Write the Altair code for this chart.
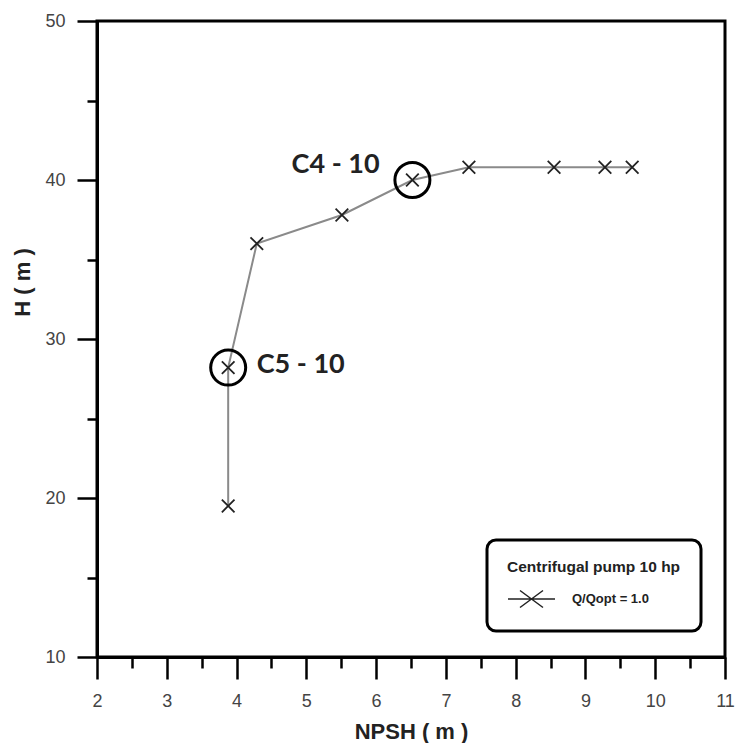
import altair as alt
import pandas as pd

# ---- data ----
npsh = [3.88, 3.88, 4.29, 5.51, 6.52, 7.33, 8.55, 9.28, 9.67]
head = [19.5, 28.2, 36.0, 37.8, 40.0, 40.8, 40.8, 40.8, 40.8]
series_name = "Q/Qopt = 1.0"
legend_title = "Centrifugal pump 10 hp"

circled_npsh = [6.52, 3.88]
circled_head = [40.0, 28.2]

note_labels = ["C4 - 10", "C5 - 10"]
note_npsh = [5.42, 4.92]
note_head = [40.42, 27.84]

x_major = [2, 3, 4, 5, 6, 7, 8, 9, 10, 11]
x_minor = [2.5, 3.5, 4.5, 5.5, 6.5, 7.5, 8.5, 9.5, 10.5]
y_major = [10, 20, 30, 40, 50]
y_minor = [15, 25, 35, 45]

df = pd.DataFrame({"npsh": npsh, "head": head, "series": [series_name] * len(npsh)})
circ = pd.DataFrame({"npsh": circled_npsh, "head": circled_head})
notes = pd.DataFrame({"npsh": note_npsh, "head": note_head, "label": note_labels})

LABEL_FONT = "Liberation Sans Narrow, Liberation Sans, Arial"
TITLE_FONT = "Liberation Sans, Arial"

x_scale = alt.Scale(domain=[2, 11], nice=False, zero=False)
y_scale = alt.Scale(domain=[10, 50], nice=False, zero=False)

x_axis_major = alt.Axis(
    orient="bottom", values=x_major, format="d",
    title="NPSH ( m )", grid=False,
    tickSize=22, tickWidth=2.5, tickColor="black",
    domainColor="black", domainWidth=3,
    labelFont=LABEL_FONT, labelFontSize=18, labelColor="#444",
    labelPadding=13, labelFlush=False, labelOverlap=False, labelBound=False,
    titleFont=TITLE_FONT, titleFontSize=22, titleFontWeight="bold", titleColor="#222",
    titleBaseline="middle", titleY=74,
)
y_axis_major = alt.Axis(
    orient="left", values=y_major, format="d",
    title="H ( m )", grid=False,
    tickSize=20, tickWidth=2.5, tickColor="black",
    domainColor="black", domainWidth=3,
    labelFont=LABEL_FONT, labelFontSize=18, labelColor="#444",
    labelPadding=12, labelFlush=False, labelOverlap=False, labelBound=False,
    titleFont=TITLE_FONT, titleFontSize=22, titleFontWeight="bold", titleColor="#222",
    titleAngle=270, titleAlign="center", titleBaseline="middle", titleX=-75, titleY=261,
)
x_axis_minor = alt.Axis(
    orient="bottom", values=x_minor, title="", labels=False, grid=False, domain=False,
    tickSize=11, tickWidth=2.5, tickColor="black",
)
y_axis_minor = alt.Axis(
    orient="left", values=y_minor, title="", labels=False, grid=False, domain=False,
    tickSize=10, tickWidth=2.5, tickColor="black",
)

X_PATH = "M-1,-1L1,1M-1,1L1,-1"
LEGEND_PATH = "M-4.7,0L4.7,0M-2.3,-1.7L2.3,1.7M-2.3,1.7L2.3,-1.7"

line = alt.Chart(df).mark_line(color="#8a8a8a", strokeWidth=2).encode(
    x=alt.X("npsh:Q", scale=x_scale, axis=x_axis_major),
    y=alt.Y("head:Q", scale=y_scale, axis=y_axis_major),
)

points = alt.Chart(df).mark_point(
    shape=X_PATH, filled=False, size=160, strokeWidth=1.8, opacity=1
).encode(
    x=alt.X("npsh:Q", scale=x_scale, axis=x_axis_minor),
    y=alt.Y("head:Q", scale=y_scale, axis=y_axis_minor),
    color=alt.Color(
        "series:N",
        scale=alt.Scale(range=["#222222"]),
        legend=alt.Legend(
            title=legend_title,
            orient="none", legendX=390, legendY=519,
            symbolType=LEGEND_PATH, symbolSize=100, symbolStrokeWidth=1.5,
            symbolOffset=18, labelOffset=34,
            strokeColor="black", cornerRadius=9, fillColor="white",
            padding=20, titlePadding=17,
            titleFont=TITLE_FONT, titleFontSize=15.5, titleFontWeight="bold", titleColor="#222",
            labelFont=TITLE_FONT, labelFontSize=13, labelFontWeight="bold", labelColor="#222",
        ),
    ),
)

circles = alt.Chart(circ).mark_point(
    shape="circle", size=1225, filled=False, stroke="black", strokeWidth=3, opacity=1
).encode(
    x=alt.X("npsh:Q", scale=x_scale, axis=None),
    y=alt.Y("head:Q", scale=y_scale, axis=None),
)

texts = alt.Chart(notes).mark_text(
    font="Lato", fontSize=27, fontWeight="bold", color="#222", align="center", baseline="alphabetic"
).encode(
    x=alt.X("npsh:Q", scale=x_scale, axis=None),
    y=alt.Y("head:Q", scale=y_scale, axis=None),
    text="label:N",
)

chart = (
    alt.layer(line, points, circles, texts)
    .resolve_axis(x="independent", y="independent")
    .properties(
        width=628, height=636,
        padding={"left": 89, "top": 13, "right": 16, "bottom": 86},
        autosize="none",
        background="white",
    )
    .configure_view(stroke="black", strokeWidth=3)
    .configure_legend(strokeWidth=3)
)

chart.save("out.html", embed_options={"renderer": "svg", "actions": False})
